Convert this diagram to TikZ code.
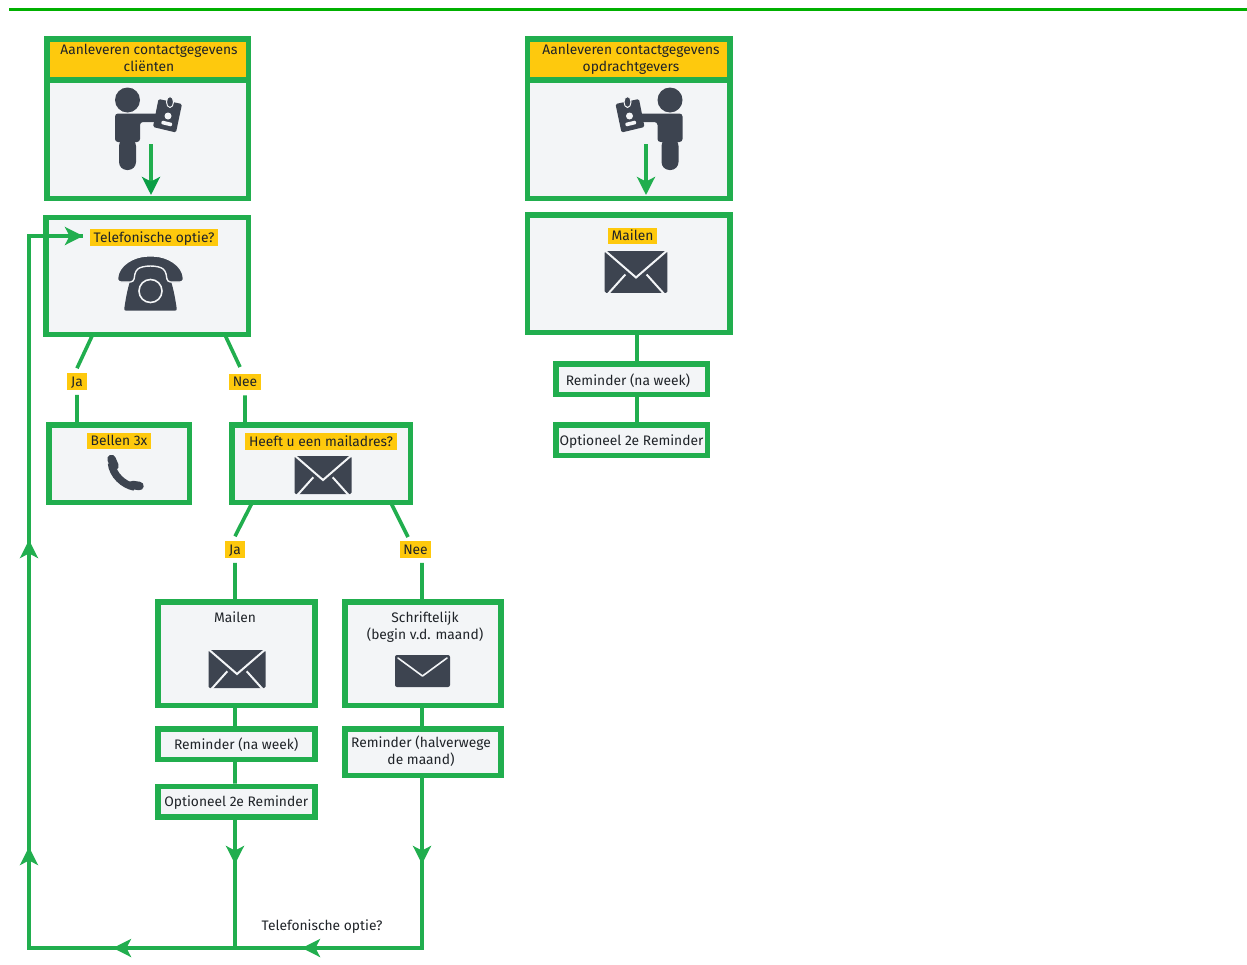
\documentclass[tikz,border=0pt]{standalone}
\usepackage{fontspec}
\setmainfont{Fira Sans}
\usetikzlibrary{arrows.meta,positioning}
\definecolor{kgreen}{HTML}{21AE4E}
\definecolor{kdeep}{HTML}{0A9E45}
\definecolor{kyellow}{HTML}{FEC90D}
\definecolor{kfill}{HTML}{F3F5F7}
\definecolor{kdark}{HTML}{3D4450}
\definecolor{kink}{HTML}{1F2328}
\tikzset{
  bx/.style={draw=kgreen,line width=5.5pt,fill=kfill,inner sep=0pt,align=center,text=kink,font=\fontsize{13.8}{16.5}\selectfont},
  oneline/.style={text height=10.5pt,text depth=0.5pt},
  lbl/.style={fill=kyellow,inner xsep=3.7pt,inner ysep=0pt,outer ysep=5pt,minimum height=16.5pt,text height=11pt,text depth=1.5pt,text=kink,font=\fontsize{13.8}{16}\selectfont},
  txt/.style={inner sep=0pt,align=center,text=kink,font=\fontsize{13.8}{17}\selectfont},
  lnk/.style={draw=kgreen,line width=3.6pt},
  arr/.style={lnk,-{Stealth[length=18pt,width=18pt,inset=4.5pt]}},
  arrdeep/.style={lnk,-{Stealth[length=18pt,width=18pt,inset=4.5pt,color=kdeep]}},
  envelope/.pic={
    \fill[kdark,rounded corners=1.5pt] (-28.5,-19) rectangle (28.5,19);
    \draw[kfill,line width=2pt] (-30,-21) -- (0,5) -- (30,-21);
    \draw[kfill,line width=2pt] (-9.7,2.3) -- (-26,20.5);
    \draw[kfill,line width=2pt] (9.7,2.3) -- (26,20.5);
  },
  letter/.pic={
    \fill[kdark,rounded corners=2pt] (-27.5,-16) rectangle (27.5,16);
    \draw[kfill,line width=1.6pt,line cap=round,line join=round] (-24.5,-13) -- (0,5) -- (24.5,-13);
  },
  person/.pic={
    \fill[kdark] (0,0) circle (12.5);
    \fill[kdark,rounded corners=3pt] (-12.5,13.5) -- (31,13.5) -- (31,22) -- (12.5,22) -- (12.5,42) -- (-12.5,42) -- cycle;
    \fill[kdark,rounded corners=8pt] (-8.5,38) -- (8.5,38) -- (8.5,70) -- (-8.5,70) -- cycle;
    \fill[kdark,rounded corners=1.5pt] (31,-1) -- (54.5,4) -- (48.5,32.5) -- (25.5,27) -- cycle;
    \draw[kfill,line width=1pt,fill=kdark] (42.5,2) ellipse (3.5 and 5.5);
    \fill[kfill] (40.5,16) circle (3.5);
    \fill[kfill,rounded corners=1pt] (34.5,20.5) -- (45,23) -- (44,26.5) -- (33.5,24) -- cycle;
  },
  deskphone/.pic={
    \fill[kdark,rounded corners=2pt] (-15,-20) -- (15,-20) -- (15,-14) .. controls (21,-6) and (24,8) .. (26.5,25.7) -- (-26.5,25.7) .. controls (-24,8) and (-21,-6) .. (-15,-14) -- cycle;
    \draw[kfill,line width=1.6pt,fill=kdark] (0,6) circle (11.5);
    \draw[kfill,line width=1.4pt,fill=kdark,rounded corners=3pt] (-33,-3) .. controls (-33,-20) and (-16,-29) .. (0,-29) .. controls (16,-29) and (33,-20) .. (33,-3) -- (17,-3) -- (15,-14) .. controls (8,-20) and (-8,-20) .. (-15,-14) -- (-17,-3) -- cycle;
  },
  handset/.pic={
    \draw[kdark,line width=7.5pt] (-14,-10) .. controls (-13,2) and (-2,12) .. (9,14);
    \draw[kdark,line width=8.5pt,line cap=round] (-14,-14) -- (-11,-7);
    \draw[kdark,line width=8.5pt,line cap=round] (7,12) -- (14,13);
  }
}
\begin{document}
\begin{tikzpicture}[x=1pt,y=-1pt]
  \useasboundingbox (0,0) rectangle (1247,964);
  \coordinate (ruleL) at (9,9.5);
  \coordinate (ruleR) at (1247,9.5);
  \draw[color={rgb,255:red,0;green,176;blue,0},line width=3pt] (ruleL) -- (ruleR);
  % clienten
  \node[bx,minimum width=201.5pt,minimum height=118.5pt] (bodyA) at (147.5,139) {};
  \node[bx,fill=kyellow,minimum width=201.5pt,minimum height=40.5pt] (headA) at (147.5,59) {};
  \node[txt] (headAtxt) at (149,58) {Aanleveren contactgegevens\\cliënten};
  \pic at (127.5,100) {person};
  \node[bx,minimum width=202.5pt,minimum height=117pt] (tel) at (147,275.75) {};
  \node[lbl] (telq) at (154,237.5) {Telefonische optie?};
  \pic at (150.5,285) {deskphone};
  \node[lbl] (jaA) at (77,381.5) {Ja};
  \node[lbl] (neeA) at (245,382) {Nee};
  \node[bx,minimum width=140.5pt,minimum height=77.5pt] (bellen) at (119,463.5) {};
  \node[lbl] (bellenq) at (119,441) {Bellen 3x};
  \pic at (125.5,473) {handset};
  \node[bx,minimum width=178.5pt,minimum height=77.5pt] (heeft) at (321,463.5) {};
  \node[lbl] (heeftq) at (321,441.5) {Heeft u een mailadres?};
  \pic at (323,475) {envelope};
  \node[lbl] (jaB) at (235,549.5) {Ja};
  \node[lbl] (neeB) at (415.5,549.5) {Nee};
  \node[bx,minimum width=157pt,minimum height=103.5pt] (mailen) at (236.25,653.5) {};
  \node[txt] (mailentxt) at (235,617) {Mailen};
  \pic at (237,669) {envelope};
  \node[bx,minimum width=156pt,minimum height=103.5pt] (schrift) at (422.75,653.5) {};
  \node[txt] (schrifttxt) at (425,627) {Schriftelijk\\(begin v.d. maand)};
  \pic at (422.5,671) {letter};
  \node[bx,oneline,minimum width=157pt,minimum height=30.5pt] (remA) at (236.25,744) {Reminder (na week)};
  \node[bx,oneline,minimum width=157pt,minimum height=30.5pt] (optA) at (236.25,801.5) {Optioneel 2e Reminder};
  \node[bx,minimum width=156pt,minimum height=46.5pt] (remB) at (422.75,752) {};
  \node[txt] (remBtxt) at (421,751.5) {Reminder (halverwege\\de maand)};
  \node[txt] (retour) at (322,927) {Telefonische optie?};
  % opdrachtgevers
  \node[bx,minimum width=202.5pt,minimum height=118.5pt] (bodyB) at (628.5,139) {};
  \node[bx,fill=kyellow,minimum width=202.5pt,minimum height=40.5pt] (headB) at (628.5,59) {};
  \node[txt] (headBtxt) at (631,59.5) {Aanleveren contactgegevens\\opdrachtgevers};
  \pic[xscale=-1] at (670,100) {person};
  \node[bx,minimum width=202.5pt,minimum height=117.5pt] (mail) at (628.5,273.5) {};
  \node[lbl] (mailq) at (632.5,236) {Mailen};
  \pic[scale=1.1] at (636,272) {envelope};
  \node[bx,minimum width=151.5pt,minimum height=30.5pt] (remC) at (631.5,379) {};
  \node[txt] (remCtxt) at (628,381) {Reminder (na week)};
  \node[bx,oneline,minimum width=151.5pt,minimum height=30.5pt] (optB) at (631.5,440) {Optioneel 2e Reminder};
  % vrije eindpunten
  \coordinate (telJa) at (92.5,335);
  \coordinate (telNee) at (225,335);
  \coordinate (heeftJa) at (252,503);
  \coordinate (heeftNee) at (391,503);
  \coordinate (endNeeA) at (240,367);
  \coordinate (endNeeB) at (408,537);
  \coordinate (startA) at (151,144);
  \coordinate (tipA) at (151,195);
  \coordinate (startB) at (646,144);
  \coordinate (tipB) at (646,195);
  \coordinate (downA) at (235,864);
  \coordinate (downB) at (422,864);
  \coordinate (joinB) at (422,948);
  \coordinate (joinA) at (235,948);
  \coordinate (backB) at (302,948);
  \coordinate (backA) at (113,948);
  \coordinate (cornerL) at (29,948);
  \coordinate (upA) at (29,847);
  \coordinate (upB) at (29,540);
  \coordinate (cornerT) at (29,236);
  \coordinate (telIn) at (83,236);
  \coordinate (stemC) at (637,334);
  \path[lnk]
  (telJa) -- (jaA.north)
  (telNee) -- (endNeeA)
  (heeftJa) -- (jaB.north)
  (heeftNee) -- (endNeeB)
  (jaA.south) -- (jaA.south |- bellen.north)
  (neeA.south) -- (neeA.south |- heeft.north)
  (jaB.south) -- (jaB.south |- mailen.north)
  (neeB.south -| downB) -- (downB |- schrift.north)
  (downA |- mailen.south) -- (downA |- remA.north)
  (downA |- remA.south) -- (downA |- optA.north)
  (downB |- schrift.south) -- (downB |- remB.north)
  (stemC |- mail.south) -- (stemC |- remC.north)
  (stemC |- remC.south) -- (stemC |- optB.north);
  \draw[arrdeep] (startA) -- (tipA);
  \draw[arr] (startB) -- (tipB);
  \draw[lnk] (optA.south -| downA) -- (joinA);
  \draw[lnk,line join=miter] (remB.south -| downB) -- (joinB) -- (cornerL) -- (cornerT) -- (telIn);
  \draw[arr] (optA.south -| downA) -- (downA);
  \draw[arr] (remB.south -| downB) -- (downB);
  \draw[arr] (joinB) -- (backB);
  \draw[arr] (joinA) -- (backA);
  \draw[arr] (cornerL) -- (upA);
  \draw[arr] (cornerL) -- (upB);
  \draw[arr] (cornerT) -- (telIn);
\end{tikzpicture}
\end{document}
